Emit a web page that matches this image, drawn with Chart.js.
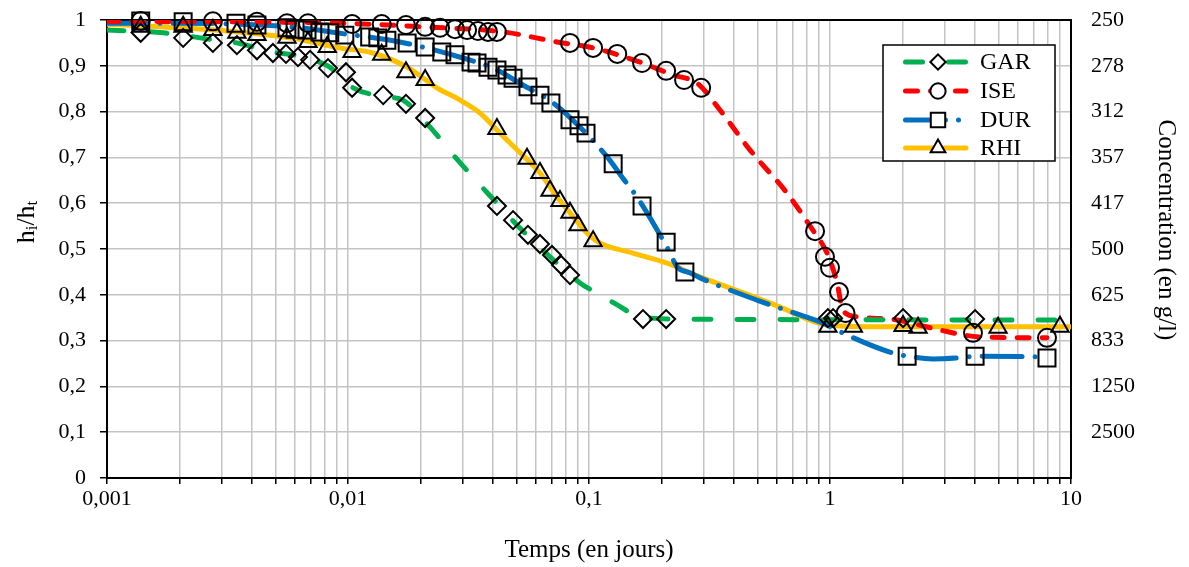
<!DOCTYPE html>
<html lang="fr">
<head>
<meta charset="utf-8">
<title>Hauteur relative et concentration en fonction du temps</title>
<script src="https://cdn.jsdelivr.net/npm/chart.js@4.4.1/dist/chart.umd.min.js"></script>
<style>
  html, body { margin: 0; padding: 0; background: #fff; }
  #graphique { display: block; }
</style>
</head>
<body>
<canvas id="graphique" width="1189" height="567"></canvas>
<script>
// Échantillons
const nomsSeries = ["GAR", "ISE", "DUR", "RHI"];

// Points mesurés (temps en jours, hi/ht)
const garTemps = [0.00138, 0.00207, 0.00275, 0.00346, 0.00419, 0.00488, 0.00553, 0.0062, 0.00696, 0.00826, 0.00981, 0.0104, 0.014, 0.0174, 0.0209, 0.0415, 0.0484, 0.0558, 0.0626, 0.0702, 0.0766, 0.0834, 0.1675, 0.209, 0.98, 1.03, 2.01, 4.0];
const garHauteur = [0.972, 0.961, 0.950, 0.945, 0.934, 0.928, 0.926, 0.919, 0.913, 0.895, 0.886, 0.852, 0.836, 0.817, 0.786, 0.594, 0.563, 0.531, 0.511, 0.487, 0.465, 0.443, 0.347, 0.347, 0.349, 0.349, 0.349, 0.347];

const iseTemps = [0.00138, 0.00275, 0.00419, 0.00558, 0.00682, 0.0104, 0.0138, 0.0174, 0.0209, 0.0241, 0.0278, 0.0312, 0.0346, 0.0381, 0.0415, 0.0834, 0.104, 0.131, 0.166, 0.209, 0.248, 0.292, 0.867, 0.953, 1.0, 1.09, 1.16, 3.92, 7.95];
const iseHauteur = [0.998, 0.997, 0.996, 0.993, 0.993, 0.991, 0.991, 0.989, 0.985, 0.983, 0.980, 0.978, 0.976, 0.974, 0.974, 0.950, 0.939, 0.926, 0.906, 0.889, 0.869, 0.852, 0.539, 0.483, 0.459, 0.406, 0.360, 0.317, 0.306];

const durTemps = [0.00138, 0.00207, 0.00343, 0.00419, 0.00558, 0.00603, 0.00676, 0.00765, 0.0084, 0.0097, 0.0123, 0.0133, 0.0145, 0.0176, 0.0209, 0.0245, 0.0278, 0.0324, 0.0343, 0.0381, 0.0415, 0.0457, 0.0484, 0.0558, 0.0626, 0.0695, 0.0834, 0.0909, 0.0972, 0.126, 0.166, 0.209, 0.250, 2.09, 4.0, 7.95];
const durHauteur = [0.998, 0.996, 0.993, 0.989, 0.983, 0.980, 0.978, 0.974, 0.972, 0.967, 0.963, 0.961, 0.956, 0.950, 0.941, 0.930, 0.924, 0.908, 0.906, 0.897, 0.891, 0.880, 0.873, 0.854, 0.836, 0.819, 0.782, 0.769, 0.753, 0.686, 0.594, 0.515, 0.450, 0.266, 0.266, 0.262];

const rhiTemps = [0.00138, 0.00207, 0.00275, 0.00346, 0.00419, 0.00558, 0.00682, 0.0082, 0.0104, 0.0138, 0.0174, 0.0209, 0.0415, 0.0553, 0.0626, 0.0689, 0.0758, 0.0834, 0.090, 0.104, 0.98, 1.25, 2.01, 2.32, 4.98, 9.0];
const rhiHauteur = [0.985, 0.985, 0.978, 0.972, 0.967, 0.961, 0.952, 0.941, 0.930, 0.924, 0.886, 0.869, 0.762, 0.697, 0.666, 0.627, 0.605, 0.579, 0.552, 0.517, 0.330, 0.330, 0.332, 0.328, 0.328, 0.330];

// Courbes lissées
const garCourbeTemps = [0.001, 0.00171, 0.00267, 0.00346, 0.00488, 0.00591, 0.00716, 0.0084, 0.0105, 0.0145, 0.0169, 0.0219, 0.0278, 0.0353, 0.0415, 0.0493, 0.0689, 0.0918, 0.111, 0.131, 0.163, 0.244, 10];
const garCourbeHauteur = [0.978, 0.972, 0.958, 0.950, 0.930, 0.924, 0.913, 0.897, 0.852, 0.832, 0.825, 0.766, 0.701, 0.640, 0.600, 0.557, 0.483, 0.426, 0.400, 0.378, 0.352, 0.347, 0.345];

const iseCourbeTemps = [0.001, 0.00927, 0.0205, 0.044, 0.0736, 0.104, 0.163, 0.223, 0.281, 0.350, 0.466, 0.663, 0.849, 0.972, 1.07, 1.13, 1.29, 1.90, 2.86, 4.19, 7.95];
const iseCourbeHauteur = [0.997, 0.993, 0.985, 0.974, 0.952, 0.939, 0.908, 0.880, 0.862, 0.803, 0.716, 0.622, 0.541, 0.491, 0.426, 0.367, 0.352, 0.345, 0.323, 0.308, 0.306];

const durCourbeTemps = [0.001, 0.00183, 0.00431, 0.00632, 0.009, 0.0164, 0.0204, 0.030, 0.040, 0.0532, 0.071, 0.0918, 0.119, 0.138, 0.158, 0.197, 0.217, 0.232, 0.262, 0.289, 0.5, 0.751, 0.935, 1.18, 1.77, 2.21, 2.67, 3.37, 4.19, 6.32, 7.95];
const durCourbeHauteur = [0.993, 0.993, 0.989, 0.983, 0.972, 0.952, 0.941, 0.917, 0.895, 0.858, 0.819, 0.766, 0.701, 0.655, 0.614, 0.531, 0.491, 0.461, 0.448, 0.437, 0.388, 0.356, 0.338, 0.312, 0.275, 0.264, 0.260, 0.262, 0.266, 0.265, 0.264];

const rhiCourbeTemps = [0.001, 0.00166, 0.00315, 0.00591, 0.00927, 0.0127, 0.0176, 0.0234, 0.0292, 0.0353, 0.0427, 0.0518, 0.0626, 0.0736, 0.0834, 0.098, 0.111, 0.152, 0.211, 0.289, 0.5, 0.621, 0.972, 1.61, 10];
const rhiCourbeHauteur = [0.991, 0.985, 0.976, 0.960, 0.939, 0.928, 0.897, 0.852, 0.825, 0.797, 0.753, 0.710, 0.666, 0.614, 0.579, 0.535, 0.513, 0.491, 0.469, 0.439, 0.393, 0.373, 0.334, 0.330, 0.330];

// Étiquettes des axes
const xEtiquettes = ["0,001", "0,01", "0,1", "1", "10"];
const yEtiquettes = ["0", "0,1", "0,2", "0,3", "0,4", "0,5", "0,6", "0,7", "0,8", "0,9", "1"];
const concEtiquettes = ["", "2500", "1250", "833", "625", "500", "417", "357", "312", "278", "250"];

const police = "'Liberation Serif', 'Times New Roman', serif";

// Styles des séries
const styles = [
  { couleur: "#00B050", tirets: [17, 26], marqueur: "rectRot", rayon: 9 },
  { couleur: "#FF0000", tirets: [12, 13], marqueur: "circle", rayon: 9 },
  { couleur: "#0070C0", tirets: [40, 13, 0.01, 13], marqueur: "rect", rayon: 12 },
  { couleur: "#FFC000", tirets: [], marqueur: "triangle", rayon: 10 },
];

function versPoints(xs, ys) {
  return xs.map((x, i) => ({ x: x, y: ys[i] }));
}

const mesures = [
  versPoints(garTemps, garHauteur),
  versPoints(iseTemps, iseHauteur),
  versPoints(durTemps, durHauteur),
  versPoints(rhiTemps, rhiHauteur),
];
const courbes = [
  versPoints(garCourbeTemps, garCourbeHauteur),
  versPoints(iseCourbeTemps, iseCourbeHauteur),
  versPoints(durCourbeTemps, durCourbeHauteur),
  versPoints(rhiCourbeTemps, rhiCourbeHauteur),
];

const datasets = [];
courbes.forEach((pts, i) => {
  datasets.push({
    label: nomsSeries[i] + " (courbe)",
    data: pts,
    borderColor: styles[i].couleur,
    borderWidth: 5,
    borderDash: styles[i].tirets,
    borderCapStyle: "round",
    borderJoinStyle: "round",
    cubicInterpolationMode: "monotone",
    pointRadius: 0,
    fill: false,
    order: 2,
  });
});
mesures.forEach((pts, i) => {
  datasets.push({
    label: nomsSeries[i],
    data: pts,
    showLine: false,
    pointStyle: styles[i].marqueur,
    pointRadius: styles[i].rayon,
    pointBorderWidth: 2,
    pointBorderColor: "#000",
    pointBackgroundColor: "rgba(0,0,0,0)",
    clip: false,
    order: 1,
  });
});

// graduations log : 1 à 9 par décade
const xGraduations = [];
for (let e = -3; e <= 0; e++) {
  for (let m = 1; m <= 9; m++) {
    xGraduations.push(m * Math.pow(10, e));
  }
}
xGraduations.push(10);

function etiquetteX(v) {
  const l = Math.log10(v);
  if (Math.abs(l - Math.round(l)) < 1e-6) {
    return xEtiquettes[Math.round(l) + 3];
  }
  return "";
}

// les étiquettes ne doivent pas repousser la zone de tracé
function largeurFixe(w) {
  return (echelle) => {
    echelle.width = w;
    echelle.paddingTop = 0;
    echelle.paddingBottom = 0;
  };
}

function dessinerMarqueur(ctx, style, x, y, r) {
  ctx.beginPath();
  if (style === "rectRot") {
    ctx.moveTo(x, y - r);
    ctx.lineTo(x + r, y);
    ctx.lineTo(x, y + r);
    ctx.lineTo(x - r, y);
    ctx.closePath();
  } else if (style === "circle") {
    ctx.arc(x, y, r, 0, Math.PI * 2);
  } else if (style === "rect") {
    const c = r * Math.SQRT1_2;
    ctx.rect(x - c, y - c, 2 * c, 2 * c);
  } else if (style === "triangle") {
    for (let k = 0; k < 3; k++) {
      const a = k * 2 * Math.PI / 3;
      const px = x + Math.sin(a) * r;
      const py = y - Math.cos(a) * r;
      if (k === 0) ctx.moveTo(px, py); else ctx.lineTo(px, py);
    }
    ctx.closePath();
  }
  ctx.fill();
  ctx.stroke();
}

const habillage = {
  id: "habillage",
  beforeDatasetsDraw(chart) {
    const ctx = chart.ctx;
    const zone = chart.chartArea;
    ctx.save();
    ctx.strokeStyle = "#000";
    ctx.lineWidth = 2;
    ctx.beginPath();
    ctx.moveTo(zone.left, zone.top);
    ctx.lineTo(zone.right, zone.top);
    ctx.stroke();
    ctx.restore();
  },
  afterDraw(chart) {
    const ctx = chart.ctx;
    const zone = chart.chartArea;
    ctx.save();
    ctx.fillStyle = "#000";

    // titre axe x
    ctx.font = "25px " + police;
    ctx.textAlign = "center";
    ctx.textBaseline = "middle";
    ctx.fillText("Temps (en jours)", (zone.left + zone.right) / 2, 550);

    // titre axe gauche : hi/ht
    ctx.save();
    ctx.translate(27, 222);
    ctx.rotate(-Math.PI / 2);
    const morceaux = [
      { t: "h", f: 26, d: 0 },
      { t: "i", f: 17, d: 6 },
      { t: "/h", f: 26, d: 0 },
      { t: "t", f: 17, d: 6 },
    ];
    let total = 0;
    morceaux.forEach((m) => {
      ctx.font = m.f + "px " + police;
      m.w = ctx.measureText(m.t).width;
      total += m.w;
    });
    let pos = -total / 2;
    ctx.textAlign = "left";
    morceaux.forEach((m) => {
      ctx.font = m.f + "px " + police;
      ctx.fillText(m.t, pos, m.d);
      pos += m.w;
    });
    ctx.restore();

    // titre axe droit
    ctx.save();
    ctx.translate(1166, 230);
    ctx.rotate(Math.PI / 2);
    ctx.font = "25px " + police;
    ctx.textAlign = "center";
    ctx.textBaseline = "middle";
    ctx.fillText("Concentration (en g/l)", 0, 0);
    ctx.restore();

    // légende
    const lx = 883, ly = 45, lw = 172, lh = 116;
    ctx.fillStyle = "#fff";
    ctx.fillRect(lx, ly, lw, lh);
    ctx.strokeStyle = "#000";
    ctx.lineWidth = 1.5;
    ctx.strokeRect(lx, ly, lw, lh);
    const lignesY = [62, 91, 120, 148];
    nomsSeries.forEach((nom, i) => {
      const y = lignesY[i];
      ctx.save();
      ctx.strokeStyle = styles[i].couleur;
      ctx.lineWidth = 5;
      ctx.lineCap = "round";
      ctx.setLineDash(styles[i].tirets);
      ctx.beginPath();
      ctx.moveTo(905.5, y);
      ctx.lineTo(966, y);
      ctx.stroke();
      ctx.restore();
      ctx.fillStyle = "#fff";
      ctx.strokeStyle = "#000";
      ctx.lineWidth = 2;
      dessinerMarqueur(ctx, styles[i].marqueur, 938, y, styles[i].rayon * 0.85);
      ctx.fillStyle = "#000";
      ctx.font = "24px " + police;
      ctx.textAlign = "left";
      ctx.textBaseline = "middle";
      ctx.fillText(nom, 980, y + 1);
    });
    ctx.restore();
  },
};

const ctx = document.getElementById("graphique");

new Chart(ctx, {
  type: "line",
  data: { datasets: datasets },
  plugins: [habillage],
  options: {
    responsive: false,
    animation: false,
    devicePixelRatio: 1,
    layout: { padding: { top: 20, left: 0, right: 0, bottom: 0 } },
    plugins: {
      legend: { display: false },
      tooltip: { enabled: false },
    },
    scales: {
      x: {
        type: "logarithmic",
        min: 0.001,
        max: 10,
        afterBuildTicks: (echelle) => {
          echelle.ticks = xGraduations.map((v) => ({ value: v }));
        },
        afterFit: (echelle) => {
          echelle.height = 89;
        },
        ticks: {
          autoSkip: false,
          maxRotation: 0,
          padding: 2,
          color: "#000",
          font: { family: police, size: 22 },
          callback: (v) => etiquetteX(v),
        },
        grid: {
          color: "#C4C4C4",
          lineWidth: 1.5,
          tickColor: "#000",
          tickLength: 6,
          tickWidth: 1.5,
        },
        border: { color: "#000", width: 2 },
      },
      y: {
        position: "left",
        min: 0,
        max: 1,
        afterFit: largeurFixe(107),
        ticks: {
          stepSize: 0.1,
          padding: 14,
          color: "#000",
          font: { family: police, size: 22 },
          callback: (v, i) => yEtiquettes[i],
        },
        grid: {
          color: "#C4C4C4",
          lineWidth: 1.5,
          tickColor: "#000",
          tickLength: 7,
          tickWidth: 1.5,
        },
        border: { color: "#000", width: 2 },
      },
      y2: {
        position: "right",
        min: 0,
        max: 1,
        afterFit: largeurFixe(118),
        ticks: {
          stepSize: 0.1,
          padding: 20,
          color: "#000",
          font: { family: police, size: 22 },
          callback: (v, i) => concEtiquettes[i],
        },
        grid: { display: false, drawTicks: false },
        border: { color: "#000", width: 2 },
      },
    },
  },
});
</script>
</body>
</html>
